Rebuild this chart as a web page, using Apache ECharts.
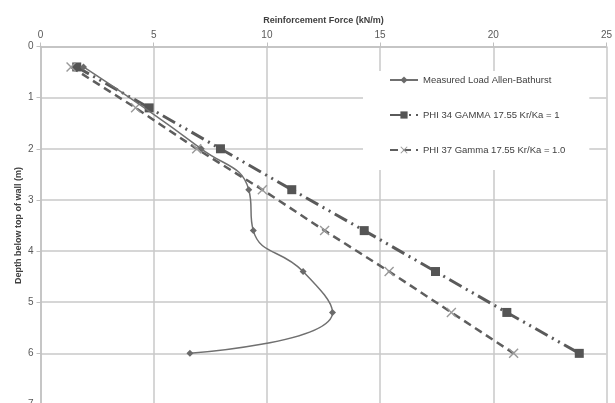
<!DOCTYPE html>
<html><head><meta charset="utf-8">
<script src="https://cdn.jsdelivr.net/npm/echarts@6/dist/echarts.min.js"></script>
<style>html,body{margin:0;padding:0;background:#fff;overflow:hidden}#c{width:615px;height:412px}</style>
</head><body><div id="c"></div>
<script>
const depths = [0.4, 1.2, 2.0, 2.8, 3.6, 4.4, 5.2, 6.0];
const measuredDepths = [0.4, 2.0, 2.8, 3.6, 4.4, 5.2, 6.0];
const measuredForce = [1.9, 7.1, 9.2, 9.4, 11.6, 12.9, 6.6];
const phi34Force = [1.6, 4.8, 7.95, 11.1, 14.3, 17.45, 20.6, 23.8];
const phi37Force = [1.35, 4.2, 6.9, 9.8, 12.55, 15.4, 18.15, 20.9];
const seriesNames = ['Measured Load Allen-Bathurst', 'PHI 34 GAMMA 17.55 Kr/Ka = 1', 'PHI 37 Gamma 17.55 Kr/Ka = 1.0'];
const xTitle = 'Reinforcement Force (kN/m)';
const yTitle = 'Depth below top of wall (m)';

const pair = (xs, ys) => xs.map((x, i) => [x, ys[i]]);
const font = 'Liberation Sans';
const xSym = 'path://M0,1 L1,0 L5,4 L9,0 L10,1 L6,5 L10,9 L9,10 L5,6 L1,10 L0,9 L4,5 Z';

const chart = echarts.init(document.getElementById('c'), null, {renderer: 'canvas'});
chart.setOption({
  animation: false,
  backgroundColor: '#fff',
  textStyle: {fontFamily: font},
  grid: {left: 40.5, top: 46.5, width: 566.5, height: 358, containLabel: false},
  legend: {
    orient: 'vertical', left: 363, top: 71,
    padding: [4, 24, 15, 26], itemGap: 25, itemWidth: 28, itemHeight: 9,
    backgroundColor: '#fff',
    textStyle: {color: '#404040', fontSize: 9.5, fontFamily: font},
    data: seriesNames
  },
  xAxis: {
    type: 'value', position: 'top', min: 0, max: 25, interval: 5,
    name: xTitle, nameLocation: 'middle', nameGap: 21,
    nameTextStyle: {color: '#404040', fontSize: 9, fontWeight: 'bold', fontFamily: font},
    axisLine: {show: true, lineStyle: {color: '#c0c0c0', width: 1.5}},
    axisTick: {show: true, length: 4, lineStyle: {color: '#c0c0c0'}},
    axisLabel: {color: '#595959', fontSize: 10, margin: 6},
    splitLine: {show: true, lineStyle: {color: '#c8c8c8', width: 1.5}}
  },
  yAxis: {
    type: 'value', inverse: true, min: 0, max: 7, interval: 1,
    name: yTitle, nameLocation: 'middle', nameGap: 17, nameRotate: 90,
    nameMoveOverlap: false,
    nameTextStyle: {color: '#404040', fontSize: 9, fontWeight: 'bold', fontFamily: font},
    axisLine: {show: true, lineStyle: {color: '#c0c0c0', width: 1.5}},
    axisTick: {show: true, length: 4, lineStyle: {color: '#c0c0c0'}},
    axisLabel: {color: '#595959', fontSize: 10, margin: 7},
    splitLine: {show: true, lineStyle: {color: '#c8c8c8', width: 1.5}}
  },
  series: [
    {
      name: seriesNames[0], type: 'line', data: pair(measuredForce, measuredDepths),
      smooth: 0.5, symbol: 'diamond', symbolSize: 7,
      lineStyle: {color: '#707070', width: 1.5},
      itemStyle: {color: '#6a6a6a'}, z: 3
    },
    {
      name: seriesNames[1], type: 'line', data: pair(phi34Force, depths),
      symbol: 'rect', symbolSize: 9,
      lineStyle: {color: '#5a5a5a', width: 3, type: [14, 5, 2, 5, 2, 5]},
      itemStyle: {color: '#555555'}, z: 2
    },
    {
      name: seriesNames[2], type: 'line', data: pair(phi37Force, depths),
      symbol: xSym, symbolSize: 10,
      lineStyle: {color: '#5e5e5e', width: 2.5, type: [8, 5]},
      itemStyle: {color: '#9a9a9a'}, z: 2
    }
  ]
});
</script></body></html>
